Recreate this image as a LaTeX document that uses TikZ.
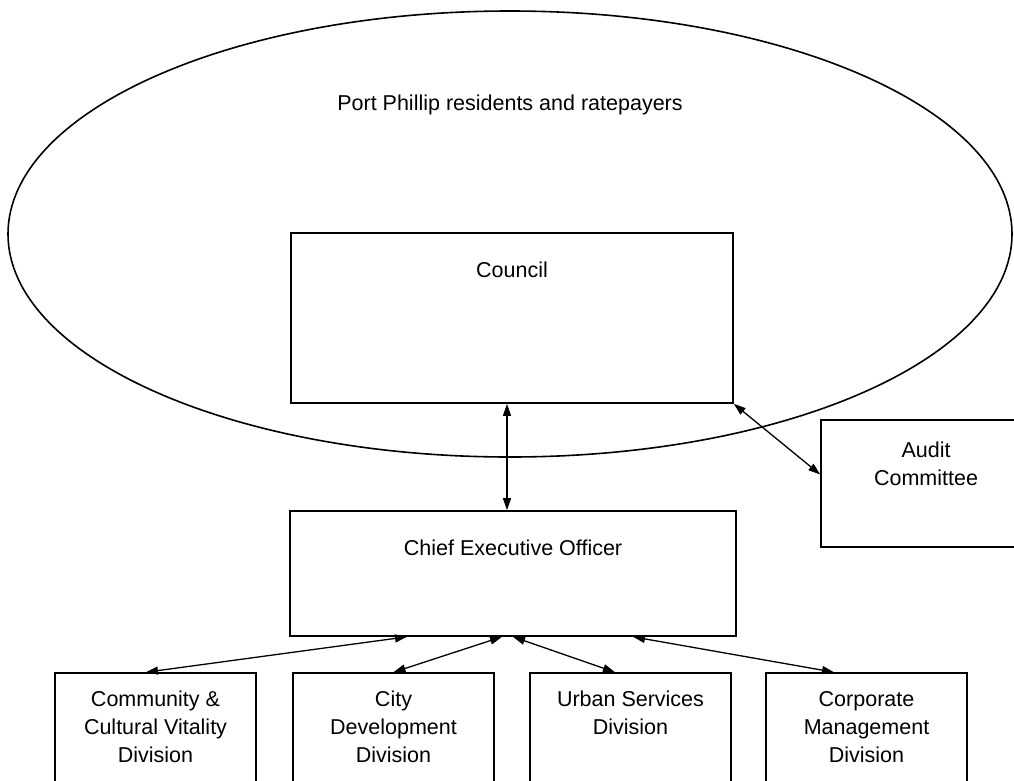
\documentclass[tikz,border=0pt]{standalone}
\usepackage{fontspec}
\setmainfont{Liberation Sans}
\usetikzlibrary{shapes.geometric,arrows.meta,positioning}

\begin{document}
\begin{tikzpicture}[x=1pt, y=-1pt, line width=1.6pt,
	every node/.style={inner sep=0pt},
	box/.style={draw, rectangle, minimum width=#1},
	box/.default=201pt,
	division/.style={box, minimum height=127pt},
	txt/.style={align=center, font=\fontsize{21.5}{28}\selectfont, anchor=north},
	link/.style={{Triangle[length=12pt,width=8pt]}-{Triangle[length=12pt,width=8pt]}, line width=1.3pt},]

    \useasboundingbox (0,0) rectangle (1014,780);
    \clip (0,0) rectangle (1014,780);

    % outer ellipse and main boxes
    \node[draw, ellipse, minimum width=1004pt, minimum height=446pt] (residents) at (510,234) {};
    \node[box=442pt, minimum height=170pt] (council) at (512,318) {};
    \node[box=446pt, minimum height=125pt] (ceo) at (513,573.5) {};
    \node[box=210pt, minimum height=127pt] (audit) at (926,483.5) {};

    % divisions
    \node[division] (community) at (155.5,736.5) {};
    \node[division] (city) at (393.5,736.5) {};
    \node[division] (urban) at (630.5,736.5) {};
    \node[division] (corporate) at (866.5,736.5) {};

    % texts
    \node[txt, below=84pt of residents.north] (residentsText) {Port Phillip residents and ratepayers};
    \node[txt, below=29pt of council.north] (councilText) {Council};
    \node[txt, below=29pt of ceo.north] (ceoText) {Chief Executive Officer};
    \node[txt, below=22pt of audit.north] (auditText) {Audit\\Committee};
    \node[txt, below=18pt of community.north] (communityText) {Community \&\\Cultural Vitality\\Division};
    \node[txt, below=18pt of city.north] (cityText) {City\\Development\\Division};
    \node[txt, below=18pt of urban.north] (urbanText) {Urban Services\\Division};
    \node[txt, below=18pt of corporate.north] (corporateText) {Corporate\\Management\\Division};

    % connectors
    \draw[link] ([xshift=-5pt]council.south) -- ([xshift=-5pt]council.south |- ceo.north);
    \draw[link] (council.south east) -- ([yshift=9pt]audit.west);
    \draw[link] ([xshift=-106pt]ceo.south) -- ([xshift=-9.5pt]community.north);
    \draw[link] ([xshift=-11pt]ceo.south) -- (city.north);
    \draw[link] (ceo.south) -- ([xshift=-15.5pt]urban.north);
    \draw[link] ([xshift=120pt]ceo.south) -- ([xshift=-32.5pt]corporate.north);
\end{tikzpicture}
\end{document}
